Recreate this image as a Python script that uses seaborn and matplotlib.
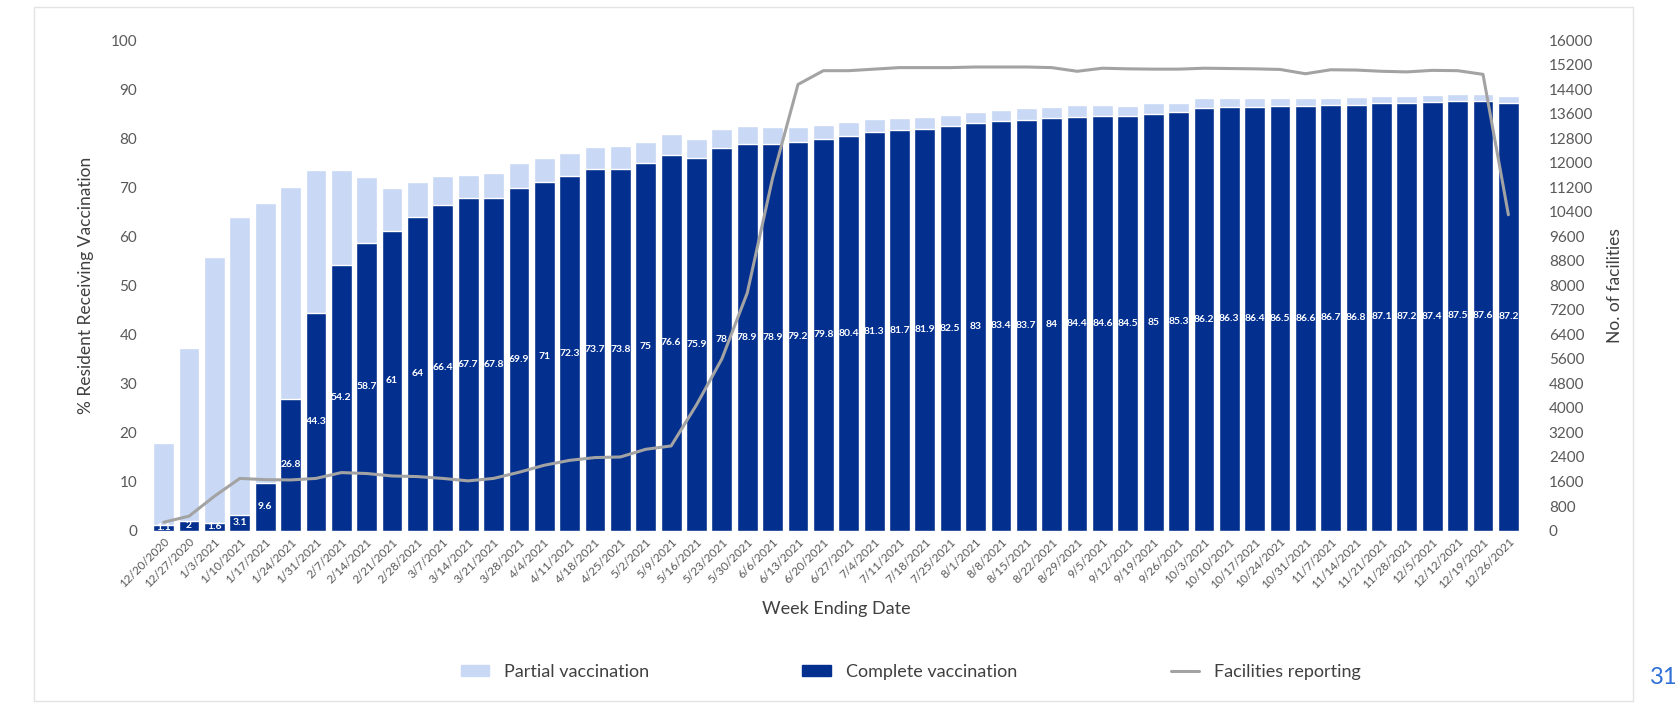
import pandas as pd
import matplotlib.pyplot as plt
import matplotlib.patches as mpatches
from matplotlib.lines import Line2D
import seaborn as sns
import numpy as np

# Week ending dates
weeks = ['12/20/2020', '12/27/2020', '1/3/2021', '1/10/2021', '1/17/2021', '1/24/2021',
         '1/31/2021', '2/7/2021', '2/14/2021', '2/21/2021', '2/28/2021', '3/7/2021',
         '3/14/2021', '3/21/2021', '3/28/2021', '4/4/2021', '4/11/2021', '4/18/2021',
         '4/25/2021', '5/2/2021', '5/9/2021', '5/16/2021', '5/23/2021', '5/30/2021',
         '6/6/2021', '6/13/2021', '6/20/2021', '6/27/2021', '7/4/2021', '7/11/2021',
         '7/18/2021', '7/25/2021', '8/1/2021', '8/8/2021', '8/15/2021', '8/22/2021',
         '8/29/2021', '9/5/2021', '9/12/2021', '9/19/2021', '9/26/2021', '10/3/2021',
         '10/10/2021', '10/17/2021', '10/24/2021', '10/31/2021', '11/7/2021', '11/14/2021',
         '11/21/2021', '11/28/2021', '12/5/2021', '12/12/2021', '12/19/2021', '12/26/2021']

# % residents fully vaccinated
complete = [1.1, 2, 1.6, 3.1, 9.6, 26.8, 44.3, 54.2, 58.7, 61, 64, 66.4, 67.7, 67.8,
            69.9, 71, 72.3, 73.7, 73.8, 75, 76.6, 75.9, 78, 78.9, 78.9, 79.2, 79.8, 80.4,
            81.3, 81.7, 81.9, 82.5, 83, 83.4, 83.7, 84, 84.4, 84.6, 84.5, 85, 85.3, 86.2,
            86.3, 86.4, 86.5, 86.6, 86.7, 86.8, 87.1, 87.2, 87.4, 87.5, 87.6, 87.2]

# % residents partially vaccinated (stacked on top)
partial = [16.7, 35.3, 54.1, 60.8, 57.1, 43.2, 29.2, 19.2, 13.3, 8.9, 7.0, 5.9, 4.8, 5.0,
           5.1, 5.0, 4.6, 4.4, 4.5, 4.3, 4.2, 3.9, 3.8, 3.6, 3.4, 3.0, 2.9, 2.8,
           2.5, 2.5, 2.5, 2.3, 2.4, 2.3, 2.4, 2.3, 2.3, 2.1, 2.0, 2.1, 1.8, 1.9,
           1.8, 1.7, 1.6, 1.5, 1.4, 1.5, 1.5, 1.4, 1.3, 1.5, 1.4, 1.4]

# number of facilities reporting
facilities = [270, 470, 1120, 1700, 1660, 1650, 1700, 1890, 1860, 1780, 1760, 1700, 1620, 1700,
              1900, 2130, 2290, 2380, 2400, 2650, 2760, 4100, 5600, 7750, 11500, 14550, 15000, 15000,
              15050, 15100, 15100, 15100, 15120, 15120, 15120, 15100, 14980, 15080, 15060, 15050, 15050, 15080,
              15070, 15060, 15040, 14900, 15030, 15020, 14980, 14960, 15010, 15000, 14880, 10300]

df = pd.DataFrame({'Week': weeks, 'Complete': complete, 'Partial': partial, 'Facilities': facilities})
df['Total'] = df['Complete'] + df['Partial']

sns.set_theme(style="white")
plt.rcParams['font.family'] = ['Lato', 'DejaVu Sans']

DARK = '#032F8E'
LIGHT = '#C9D8F4'
LINE = '#A3A3A3'
TXT = '#595959'

fig = plt.figure(figsize=(16.8, 7.07), dpi=100)
ax = fig.add_axes([0.0899, 0.2496, 0.8155, 0.6938])

sns.barplot(data=df, x='Week', y='Total', color=LIGHT, width=0.82, saturation=1, ax=ax)
sns.barplot(data=df, x='Week', y='Complete', color=DARK, width=0.82, saturation=1, ax=ax)

# labels in the middle of the complete bars
ax.bar_label(ax.containers[1], labels=['%g' % v for v in complete], label_type='center',
             color='white', fontsize=7.5, fontweight='bold')

ax.set_ylim(0, 100)
ax.set_xlim(-0.5, len(weeks) - 0.5)
ax.set_yticks(range(0, 101, 10))
ax.tick_params(axis='y', length=0, labelsize=11, labelcolor=TXT, pad=10)
ax.tick_params(axis='x', length=0, labelsize=8.5, labelcolor=TXT, pad=4)
plt.setp(ax.get_xticklabels(), rotation=45, ha='right', rotation_mode='anchor')
ax.set_ylabel('% Resident Receiving Vaccination', fontsize=12.5, color='#404040', labelpad=12)
ax.set_xlabel('Week Ending Date', fontsize=13, color='#404040', labelpad=8)
for s in ax.spines.values():
    s.set_visible(False)

# facilities reporting on the secondary axis
ax2 = ax.twinx()
sns.lineplot(data=df, x='Week', y='Facilities', color=LINE, linewidth=2.2, sort=False, ax=ax2)
ax2.set_ylim(0, 16000)
ax2.set_yticks(range(0, 16001, 800))
ax2.tick_params(axis='y', length=0, labelsize=11, labelcolor=TXT, pad=20)
ax2.set_ylabel('No. of facilities', fontsize=12.5, color='#404040', labelpad=10)
for s in ax2.spines.values():
    s.set_visible(False)

handles = [mpatches.Patch(color=LIGHT, label='Partial vaccination'),
           mpatches.Patch(color=DARK, label='Complete vaccination'),
           Line2D([0], [0], color=LINE, linewidth=2.2, label='Facilities reporting')]
fig.legend(handles=handles, loc='center', bbox_to_anchor=(0.542, 0.05), ncol=3, frameon=False,
           fontsize=13, handlelength=1.6, handleheight=0.55, columnspacing=8.5,
           labelcolor='#404040')

# faint chart border
fig.patches.append(mpatches.Rectangle((0.02, 0.008), 0.952, 0.982, transform=fig.transFigure,
                                      fill=False, edgecolor='#E3E3E3', linewidth=1))

# page number
fig.text(0.982, 0.042, '31', fontsize=17, color='#2F6FD6', ha='left', va='center')

fig.savefig('out.png', dpi=100)
